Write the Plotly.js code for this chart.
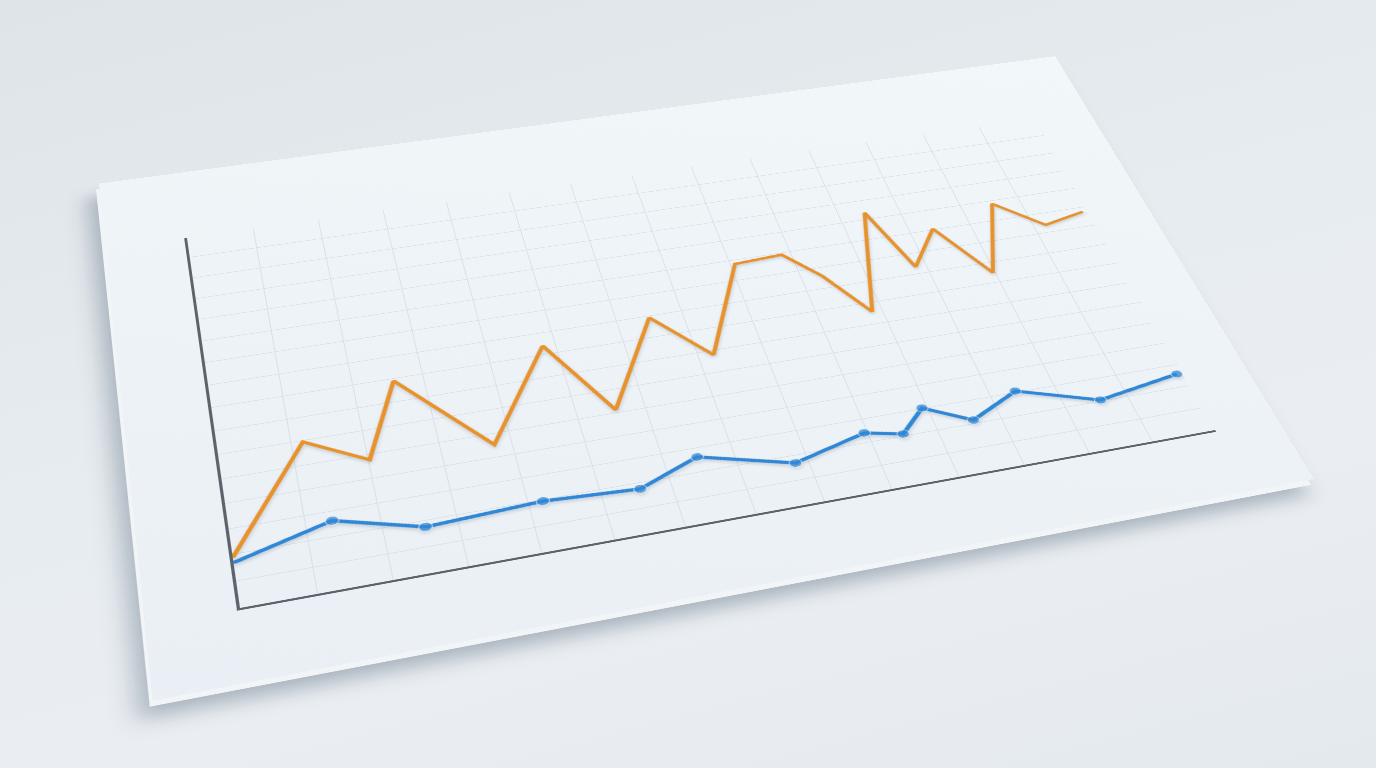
<!DOCTYPE html>
<html>
<head>
<meta charset="utf-8">
<script src="https://cdn.plot.ly/plotly-3.0.1.min.js"></script>
<style>
  html, body { margin: 0; padding: 0; width: 1376px; height: 768px; overflow: hidden; }
  body { background: linear-gradient(165deg, #dfe4e8 0%, #e7ecf0 45%, #eaeef2 70%, #e4e9ed 100%); position: relative; }
  .sheet { position: absolute; left: 0; top: 0; transform-origin: 0 0; }
  #edge { background: #f2f5f8; box-shadow: -10px 14px 22px rgba(70, 90, 110, 0.38); }
  #chart { background: linear-gradient(200deg, #f2f7fa 0%, #eef3f7 50%, #e9eff4 100%); }
  #chart .scatterlayer { filter: drop-shadow(0px 3px 2px rgba(60, 80, 110, 0.22)); }
</style>
</head>
<body>
<div id="edge" class="sheet"></div>
<div id="chart" class="sheet"></div>
<script>
// ---- data ----
const orangeX = [0, 8.3, 14.4, 18.4, 26.8, 34.4, 39.8, 46.4, 51.7, 57.7, 63.2, 66.6, 70.3, 74.5, 77.3, 81.3, 85.5, 89.5, 94.3, 99.4];
const orangeY = [11.8, 37.2, 29.8, 49.4, 28.3, 52.5, 32.0, 55.7, 42.4, 67.5, 68.1, 60.0, 47.3, 77.2, 58.3, 69.0, 53.0, 74.0, 64.9, 67.2];
const blueX = [0, 9.7, 18.3, 30.0, 39.7, 46.3, 55.8, 63.9, 67.8, 70.9, 75.6, 81.4, 89.8, 99.4];
const blueY = [10.6, 16.4, 11.0, 12.2, 11.0, 16.4, 10.6, 15.1, 13.1, 18.9, 13.5, 19.1, 12.9, 16.2];

// ---- layout geometry ----
const WP = 1000, HP = 600, ML = 86, MR = 72, MT = 128, MB = 99;
const W = ML + WP + MR, H = MT + HP + MB;
// plot-area corners on screen: TL, TR, BR, BL
const quad = [[187, 238], [1034, 119], [1215, 430], [240, 608]];

function squareToQuad(q) {
  const [x0, y0] = q[0], [x1, y1] = q[1], [x2, y2] = q[2], [x3, y3] = q[3];
  const sx = x0 - x1 + x2 - x3, sy = y0 - y1 + y2 - y3;
  const dx1 = x1 - x2, dx2 = x3 - x2, dy1 = y1 - y2, dy2 = y3 - y2;
  const den = dx1 * dy2 - dx2 * dy1;
  const g = (sx * dy2 - dx2 * sy) / den, h = (dx1 * sy - sx * dy1) / den;
  return [[x1 - x0 + g * x1, x3 - x0 + h * x3, x0],
          [y1 - y0 + g * y1, y3 - y0 + h * y3, y0],
          [g, h, 1]];
}
function mul(A, B) {
  const R = [[0,0,0],[0,0,0],[0,0,0]];
  for (let i = 0; i < 3; i++) for (let j = 0; j < 3; j++) for (let k = 0; k < 3; k++) R[i][j] += A[i][k] * B[k][j];
  return R;
}
const S = squareToQuad(quad);
const A = [[1 / WP, 0, -ML / WP], [0, 1 / HP, -MT / HP], [0, 0, 1]];
const M = mul(S, A);
const m3d = 'matrix3d(' + [M[0][0], M[1][0], 0, M[2][0], M[0][1], M[1][1], 0, M[2][1], 0, 0, 1, 0, M[0][2], M[1][2], 0, M[2][2]].join(',') + ')';

['edge', 'chart'].forEach(id => {
  const el = document.getElementById(id);
  el.style.width = W + 'px';
  el.style.height = H + 'px';
});
document.getElementById('chart').style.transform = m3d;
document.getElementById('edge').style.transform = 'translate(-3px, 6px) ' + m3d;

const markerSizes = blueY.map((_, i) => (i === 0 ? 0 : 13));

const traces = [
  { x: orangeX, y: orangeY, type: 'scatter', mode: 'lines',
    line: { color: '#e8922d', width: 4.6 }, hoverinfo: 'skip' },
  { x: blueX, y: blueY, type: 'scatter', mode: 'lines+markers',
    line: { color: '#2f87d6', width: 5 },
    marker: { color: '#2f87d6', size: markerSizes }, hoverinfo: 'skip' }
];

const axisCommon = {
  showgrid: true, gridcolor: '#d9e0e5', gridwidth: 1,
  zeroline: false, showticklabels: false, ticks: '',
  showline: true, linecolor: '#5c636b', linewidth: 2.6, mirror: false, fixedrange: true
};

const layout = {
  width: W, height: H, autosize: false,
  margin: { l: ML, r: MR, t: MT, b: MB, pad: 0 },
  paper_bgcolor: 'rgba(0,0,0,0)', plot_bgcolor: 'rgba(0,0,0,0)',
  showlegend: false,
  xaxis: Object.assign({}, axisCommon, { range: [0, 100], tick0: 0, dtick: 100 / 14 }),
  yaxis: Object.assign({}, axisCommon, { range: [0, 99.9], tick0: 0, dtick: 100 / 16 })
};

Plotly.newPlot('chart', traces, layout, { displayModeBar: false, staticPlot: true });
</script>
</body>
</html>
